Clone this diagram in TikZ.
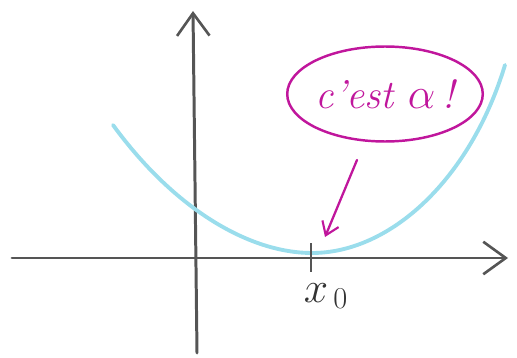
\documentclass[tikz,border=0pt]{standalone}
\usetikzlibrary{positioning,arrows.meta,shapes.geometric}
\definecolor{axisC}{HTML}{555555}
\definecolor{curveC}{HTML}{9ADDEC}
\definecolor{noteC}{HTML}{C0169C}
\tikzset{
  axis/.style={draw=axisC, line width=1.7pt, line cap=round,
               -{Straight Barb[length=4.5mm,width=6.5mm,line width=1.5pt]}},
  tick/.style={draw=axisC, line width=1.5pt},
  graph/.style={draw=curveC, line width=2.2pt, line cap=round},
  bubble/.style={ellipse, draw=noteC, line width=1.4pt, text=noteC,
                 minimum width=3.2cm, minimum height=1.9cm, inner sep=0pt,
                 font=\fontsize{23}{27}\selectfont\itshape},
  points/.style={draw=noteC, line width=1.3pt, line cap=round,
                 -{Straight Barb[length=2.5mm,width=3.5mm,line width=1.2pt]}},
  lbl/.style={font=\fontsize{26}{30}\selectfont, text=black!80},
}
\begin{document}
\begin{tikzpicture}[x=0.02cm, y=-0.02cm]
\useasboundingbox (0,0) rectangle (517,358);
% axes
\coordinate (xl) at (12,258);
\coordinate (xr) at (508,258);
\coordinate (yb) at (197,353);
\coordinate (yt) at (193,11);
\draw[axis] (xl) -- (xr);
\draw[axis] (yb) -- (yt);
% the curve
\coordinate (cl) at (113,125);
\coordinate (cm) at (312,253);
\coordinate (cr) at (505,65);
\draw[graph] (cl) .. controls (175,210) and (250,253) .. (cm)
  .. controls (390,253) and (470,180) .. (cr);
% x_0
\coordinate (tt) at (311,243);
\coordinate (tb) at (311,272);
\draw[tick] (tt) -- (tb);
\node[lbl, below=0.1cm of tb, xshift=0.3cm] (x0) {$x_{\,0}$};
% note
\node[bubble] (note) at (385,94) {c'est $\alpha$\,!};
\coordinate (aim) at (325,237);
\draw[points] (357,160) -- (aim);
\end{tikzpicture}
\end{document}
